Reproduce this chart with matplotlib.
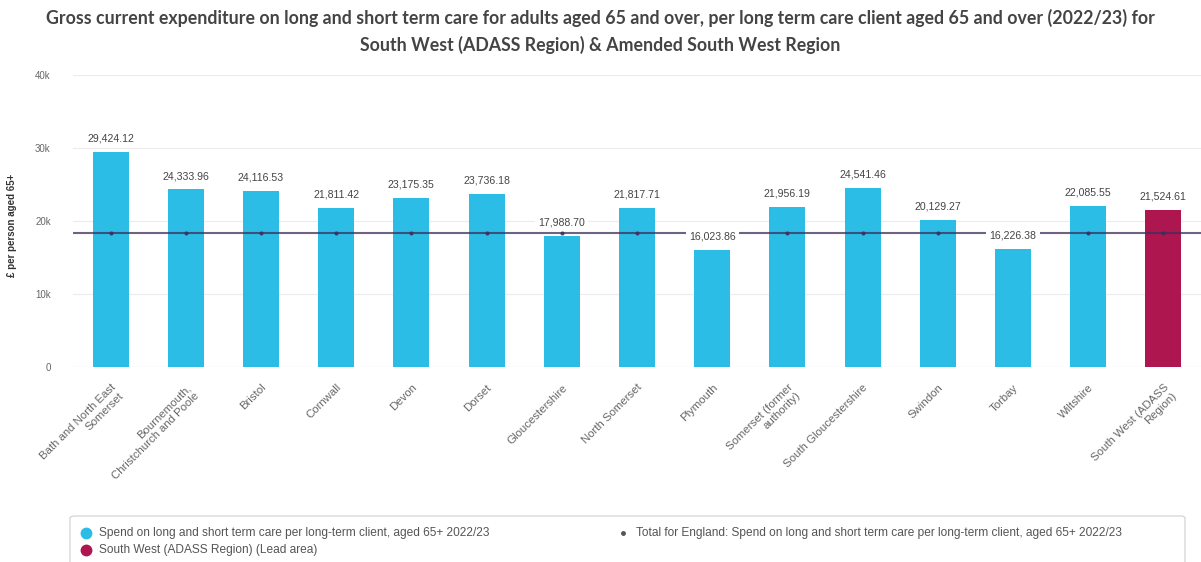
import matplotlib
matplotlib.use("Agg")
import matplotlib.pyplot as plt
from matplotlib.lines import Line2D
from matplotlib.patches import FancyBboxPatch
from matplotlib.ticker import FuncFormatter

plt.rcParams['font.family'] = ['Liberation Sans', 'DejaVu Sans']

areas = [
    "Bath and North East\nSomerset",
    "Bournemouth,\nChristchurch and Poole",
    "Bristol",
    "Cornwall",
    "Devon",
    "Dorset",
    "Gloucestershire",
    "North Somerset",
    "Plymouth",
    "Somerset (former\nauthority)",
    "South Gloucestershire",
    "Swindon",
    "Torbay",
    "Wiltshire",
    "South West (ADASS\nRegion)",
]
spend = [29424.12, 24333.96, 24116.53, 21811.42, 23175.35, 23736.18, 17988.70,
         21817.71, 16023.86, 21956.19, 24541.46, 20129.27, 16226.38, 22085.55,
         21524.61]
lead_area = "South West (ADASS\nRegion)"
england_total = 18360.0

title_lines = [
    "Gross current expenditure on long and short term care for adults aged 65 and over, "
    "per long term care client aged 65 and over (2022/23) for",
    "South West (ADASS Region) & Amended South West Region",
]
ylabel = "£ per person aged 65+"
legend_labels = [
    "Spend on long and short term care per long-term client, aged 65+ 2022/23",
    "South West (ADASS Region) (Lead area)",
    "Total for England: Spend on long and short term care per long-term client, aged 65+ 2022/23",
]

CYAN = "#2BBDE6"
MAROON = "#AE1650"
LINE = "#3E2D5C"
GREY_TXT = "#666666"

W, H = 1201, 562
fig = plt.figure(figsize=(W / 100, H / 100), dpi=100)
ax = fig.add_axes([73 / W, 1 - 367 / H, (W - 73) / W, (367 - 75) / H])

x = list(range(len(areas)))
colors = [MAROON if a == lead_area else CYAN for a in areas]
ax.bar(x, spend, width=0.48, color=colors, zorder=2)

ax.set_xlim(-0.5, len(areas) - 0.5)
ax.set_ylim(0, 40000)
ax.set_yticks([0, 10000, 20000, 30000, 40000])
ax.yaxis.set_major_formatter(FuncFormatter(lambda v, p: "0" if v == 0 else f"{int(v/1000)}k"))
ax.grid(axis='y', color="#ececec", linewidth=0.8, zorder=0)
for s in ax.spines.values():
    s.set_visible(False)
ax.axhline(0, color="#d8d8d8", linewidth=0.8, zorder=1)
ax.tick_params(axis='y', length=0, pad=16, labelsize=7, labelcolor=GREY_TXT)
ax.tick_params(axis='x', length=0, pad=11)
ax.set_xticks(x)
ax.set_xticklabels(areas, rotation=45, ha='right', rotation_mode='anchor',
                   fontsize=8.2, color=GREY_TXT, multialignment='right')

# England average line with a marker on each area
ax.plot([-0.5, len(areas) - 0.5], [england_total, england_total], color=LINE,
        linewidth=1.5, alpha=0.75, zorder=3)
ax.plot(x, [england_total] * len(x), linestyle='none', marker='o', markersize=2.0,
        color=LINE, alpha=0.8, zorder=3)

for xi, v in zip(x, spend):
    ax.annotate(f"{v:,.2f}", (xi, v), xytext=(0, 6), textcoords='offset points',
                ha='center', va='bottom', fontsize=7.6, color="#444444", zorder=4,
                bbox=dict(boxstyle='square,pad=0.3', fc='white', ec='none'))

fig.text(12 / W, 1 - 225 / H, ylabel, rotation=90, ha='center', va='center',
         fontsize=7, fontweight='bold', color="#333333")

for ty, line in zip([18, 45], title_lines):
    fig.text(0.5, 1 - ty / H, line, ha='center', va='center', fontsize=12.8,
             fontweight='bold', color="#444444", family=['Lato', 'DejaVu Sans'])

# legend panel
box = FancyBboxPatch((70 / W, -0.02), (1185 - 70) / W, (562 - 516) / H + 0.02,
                     boxstyle='round,pad=0,rounding_size=0.004', transform=fig.transFigure,
                     fc='white', ec="#cfcfcf", lw=0.8)
fig.patches.append(box)
entries = [
    (86, 533, CYAN, 7.5, legend_labels[0]),
    (86, 550, MAROON, 7.5, legend_labels[1]),
    (623, 533, "#555555", 2.5, legend_labels[2]),
]
for px, py, c, ms, lab in entries:
    fig.add_artist(Line2D([px / W], [1 - py / H], marker='o', markersize=ms,
                          color=c, linestyle='none', transform=fig.transFigure))
    fig.text((px + 13) / W, 1 - py / H, lab, ha='left', va='center', fontsize=8.6,
             color="#555555")

fig.savefig("out.png", dpi=100)
